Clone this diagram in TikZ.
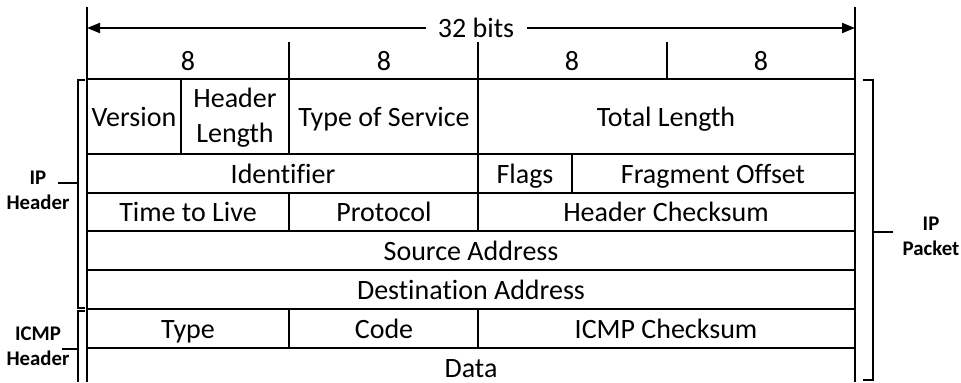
\documentclass[tikz,border=0pt]{standalone}
\usepackage{fontspec}
\setmainfont[Ligatures=NoCommon]{Carlito}
\usetikzlibrary{arrows.meta}

\tikzset{
  field/.style={font=\fontsize{14}{17.5}\selectfont, align=center, inner sep=1pt, text height=11pt, text depth=1.5pt},
  twoline/.style={font=\fontsize{14}{17.5}\selectfont, align=center, inner sep=1pt},
  sidelabel/.style={font=\fontsize{10.4}{12.5}\selectfont\bfseries, align=center, inner sep=1pt},
  gridline/.style={line width=1pt},
  bracket/.style={line width=1.3pt},
  widthtip/.style={-{Triangle[length=6.5pt,width=5pt]}},
}

\begin{document}
\begin{tikzpicture}[x=0.5pt, y=-0.5pt]
  \useasboundingbox (0,0) rectangle (961,382);

  % Ancho total
  \draw[gridline] (87,7) -- (87,382); \draw[gridline] (855,7) -- (855,382);
  \node[field, inner sep=6pt] (bits) at (476,28) {32 bits};
  \coordinate (leftend) at (87,28); \coordinate (rightend) at (855,28);
  \draw[gridline, widthtip] (bits.west) -- (leftend);
  \draw[gridline, widthtip] (bits.east) -- (rightend);

  % Octetos
  \node[field] (oct1) at (188,61) {8}; \node[field] (oct2) at (384,61) {8}; \node[field] (oct3) at (572,61) {8}; \node[field] (oct4) at (761,61) {8};
  \foreach \x in {289,478,667} \draw[gridline] (\x,42) -- (\x,79);

  % Filas
  \foreach \y in {79,154,193,231,270,309,348} \draw[gridline] (87,\y) -- (855,\y);
  \draw[gridline] (181,79) -- (181,154); \draw[gridline] (289,79) -- (289,154); \draw[gridline] (478,79) -- (478,154);
  \draw[gridline] (478,154) -- (478,193); \draw[gridline] (572,154) -- (572,193);
  \draw[gridline] (289,193) -- (289,231); \draw[gridline] (478,193) -- (478,231);
  \draw[gridline] (289,309) -- (289,348); \draw[gridline] (478,309) -- (478,348);

  % Campos
  \node[field] (version) at (134,117) {Version}; \node[twoline] (hlen) at (235,118) {Header\\Length}; \node[field] (tos) at (384,117) {Type of Service}; \node[field] (totlen) at (666,117) {Total Length};
  \node[field] (ident) at (283,174) {Identifier}; \node[field] (flags) at (525,174) {Flags}; \node[field] (fragoff) at (713,174) {Fragment Offset};
  \node[field] (ttl) at (188,212) {Time to Live}; \node[field] (proto) at (384,212) {Protocol}; \node[field] (hcsum) at (666,212) {Header Checksum};
  \node[field] (srcaddr) at (471,251) {Source Address};
  \node[field] (dstaddr) at (471,290) {Destination Address};
  \node[field] (type) at (188,329) {Type}; \node[field] (code) at (384,329) {Code}; \node[field] (icsum) at (666,329) {ICMP Checksum};
  \node[field] (data) at (471,368) {Data};

  % Corchetes
  \node[sidelabel] (iphdr) at (38,190) {IP\\Header};
  \draw[bracket] (85,80) -- (78,80) -- (78,308) -- (85,308);
  \coordinate (ipmid) at (78,183); \coordinate (iptick) at (58,183);
  \draw[bracket] (ipmid) -- (iptick);

  \node[sidelabel] (icmphdr) at (38,346) {ICMP\\Header};
  \draw[bracket] (85,311) -- (78,311) -- (78,382);
  \coordinate (icmpmid) at (78,349); \coordinate (icmptick) at (62,349);
  \draw[bracket] (icmpmid) -- (icmptick);

  \node[sidelabel] (ippkt) at (931,236) {IP\\Packet};
  \draw[bracket] (863,80) -- (873,80) -- (873,380) -- (863,380);
  \coordinate (pktmid) at (873,232); \coordinate (pkttick) at (893,232);
  \draw[bracket] (pktmid) -- (pkttick);
\end{tikzpicture}
\end{document}
